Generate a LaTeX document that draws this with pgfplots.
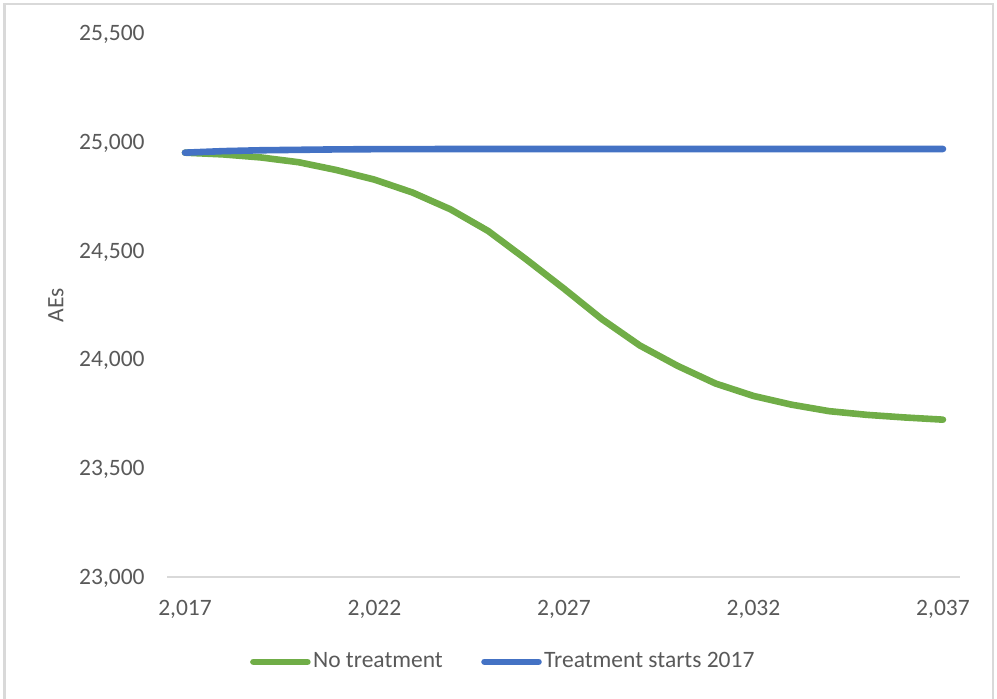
\documentclass[border=0pt]{standalone}
\usepackage{pgfplots}
\pgfplotsset{compat=1.18}
\usepackage{fontspec}
\setmainfont{Carlito}

\definecolor{txt}{HTML}{595959}
\definecolor{grid}{HTML}{D9D9D9}
\definecolor{green1}{HTML}{70AD47}
\definecolor{blue1}{HTML}{4472C4}

\newcommand{\lbl}{\fontsize{11.75bp}{14bp}\selectfont}

\begin{document}
\begin{tikzpicture}[x=0.5bp,y=0.5bp]
\useasboundingbox (0,0) rectangle (997,699);
% chart frame (open at the bottom, as in the source)
\draw[grid, line width=1bp] (4.5,0) -- (4.5,695) -- (993,695) -- (993,0);

\begin{axis}[
  at={(83.5bp,61bp)}, anchor=south west,
  scale only axis, width=396.5bp, height=272bp,
  xmin=2016.525, xmax=2037.45,
  ymin=23000, ymax=25500,
  xtick={2017,2022,...,2037},
  ytick={23000,23500,...,25500},
  scaled x ticks=false, scaled y ticks=false,
  axis x line*=bottom, axis y line*=left,
  x axis line style={grid, line width=1bp, -},
  y axis line style={draw=none},
  major tick length=0pt,
  tick style={draw=none},
  /pgf/number format/.cd, fixed, 1000 sep={,}, assume math mode=true,
  /pgfplots/.cd,
  tick label style={font=\lbl, text=txt, inner sep=0pt},
  xticklabel style={anchor=base, yshift=-19.5bp},
  yticklabel style={anchor=base east, xshift=-11bp, yshift=-3.8bp},
  legend columns=2,
  legend style={draw=none, fill=none, at={(0.4243,-0.156)}, anchor=center,
    font=\lbl, text=txt, inner sep=0pt,
    nodes={inner sep=1.2bp},
    /tikz/every even column/.append style={column sep=18bp}},
  legend image code/.code={\draw[#1] (0bp,0bp) -- (27bp,0bp);},
  every axis plot/.append style={line width=3.3bp, line cap=round, line join=round},
]
\addplot[green1] coordinates {
(2017,24950) (2018,24942) (2019,24928) (2020,24906) (2021,24870)
(2022,24826) (2023,24767) (2024,24690) (2025,24590) (2026,24460)
(2027,24325) (2028,24185) (2029,24064) (2030,23970) (2031,23889)
(2032,23832) (2033,23792) (2034,23762) (2035,23745) (2036,23733)
(2037,23723)
};
\addlegendentry{No treatment}
\addplot[blue1] coordinates {
(2017,24950) (2018,24957) (2019,24961) (2020,24963) (2021,24965)
(2022,24966) (2023,24966) (2024,24967) (2025,24967) (2026,24967)
(2027,24967) (2028,24967) (2029,24967) (2030,24967) (2031,24967)
(2032,24967) (2033,24967) (2034,24967) (2035,24967) (2036,24967)
(2037,24967)
};
\addlegendentry{Treatment starts 2017}
\end{axis}

\node[rotate=90, anchor=center, font=\lbl, text=txt, inner sep=0pt] at (56,394) {AEs};
\end{tikzpicture}
\end{document}
